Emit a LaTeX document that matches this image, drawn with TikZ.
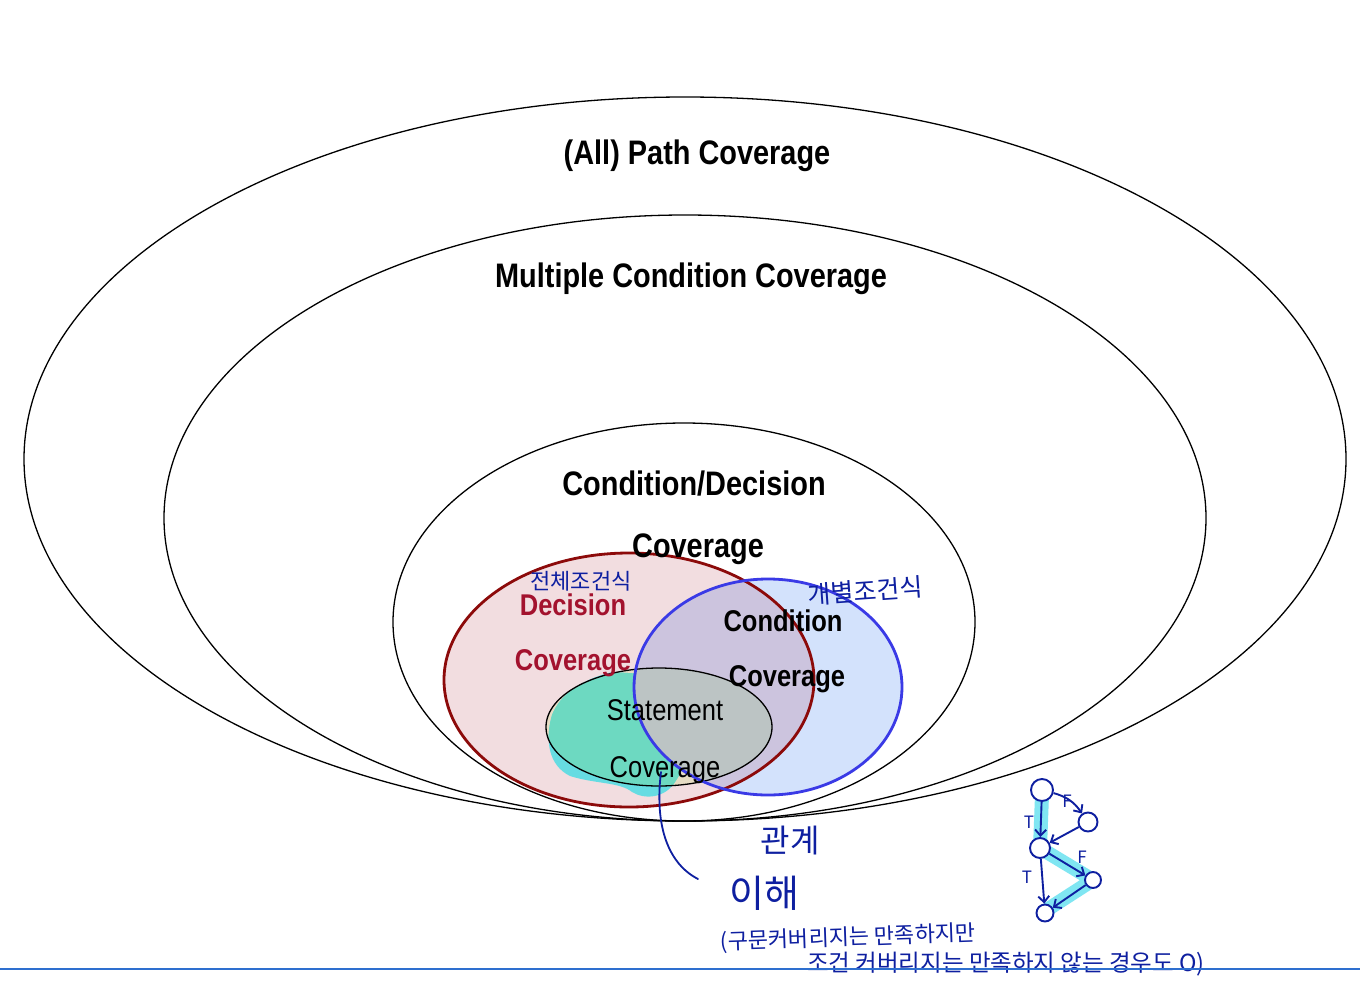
\documentclass[tikz,border=0pt]{standalone}
\usepackage{fontspec}
\setmainfont{Liberation Sans}
\newfontfamily\nar[FakeStretch=0.85]{Liberation Sans}
\newfontfamily\kr{Noto Sans CJK KR}
\usetikzlibrary{arrows.meta}
\definecolor{pinkfill}{HTML}{F2DDE0}
\definecolor{redline}{HTML}{8C0A0A}
\definecolor{redtext}{HTML}{A3122E}
\definecolor{bluefill}{HTML}{D3E2FC}
\definecolor{blueline}{HTML}{3A3AE6}
\definecolor{overlapfill}{HTML}{CCC4DE}
\definecolor{stmtbeige}{HTML}{E6DCC4}
\definecolor{stmtgrey}{HTML}{BCC4C4}
\definecolor{tealhl}{HTML}{6DD9C1}
\definecolor{cyanhl}{HTML}{66DCE2}
\definecolor{ink}{HTML}{0E1FA0}
\definecolor{graphhl}{HTML}{80E6F2}
\definecolor{rule}{HTML}{2E6FCF}
\tikzset{
  bigtxt/.style={inner sep=0pt, anchor=base, font=\nar\bfseries\fontsize{34}{38}\selectfont},
  midtxt/.style={inner sep=0pt, anchor=base, font=\nar\bfseries\fontsize{30}{34}\selectfont},
  stmttxt/.style={inner sep=0pt, anchor=base, font=\nar\fontsize{30}{34}\selectfont},
  hand/.style={inner sep=0pt, text=ink, font=\kr\fontsize{#1}{#1}\selectfont},
  gnode/.style={circle, draw=ink, fill=white, line width=1.9pt, minimum size=#1, inner sep=0pt},
  garrow/.style={draw=ink, line width=1.9pt, -{Straight Barb[length=6pt,width=11pt]}},
  glabel/.style={inner sep=0pt, text=ink, font=\kr\fontsize{17}{17}\selectfont},
  outer/.style={draw=black, line width=1.3pt},
}
\begin{document}
\begin{tikzpicture}[x=1pt,y=-1pt]
\useasboundingbox (0,0) rectangle (1360,999);
\fill[white] (0,0) rectangle (1360,999);
% outer ellipses
\draw[outer] (685,459) ellipse [x radius=661pt, y radius=362pt];
\draw[outer] (685,518) ellipse [x radius=521pt, y radius=303pt];
\draw[outer] (684,622) ellipse [x radius=291pt, y radius=199pt];
% decision / condition fills
\fill[pinkfill] (629,680) ellipse [x radius=185pt, y radius=127pt];
% statement base fill
\fill[stmtbeige] (659,727) ellipse [x radius=113pt, y radius=59pt];
% highlighter blob
\fill[cyanhl] (612,672) .. controls (580,680) and (560,695) .. (552,715)
  .. controls (545,740) and (548,765) .. (570,776)
  .. controls (595,784) and (620,782) .. (632,792)
  .. controls (645,800) and (665,798) .. (675,782)
  .. controls (690,760) and (700,720) .. (660,675) -- cycle;
\begin{scope}
  \clip (659,727) ellipse [x radius=113pt, y radius=59pt];
  \fill[tealhl] (612,672) .. controls (580,680) and (560,695) .. (552,715)
    .. controls (545,740) and (548,765) .. (570,776)
    .. controls (595,784) and (620,782) .. (632,792)
    .. controls (645,800) and (665,798) .. (675,782)
    .. controls (690,760) and (700,720) .. (660,675) -- cycle;
\end{scope}
\fill[bluefill] (768,687) ellipse [x radius=134pt, y radius=108pt];
\begin{scope}
  \clip (629,680) ellipse [x radius=185pt, y radius=127pt];
  \fill[overlapfill] (768,687) ellipse [x radius=134pt, y radius=108pt];
\end{scope}
\begin{scope}
  \clip (768,687) ellipse [x radius=134pt, y radius=108pt];
  \fill[stmtgrey] (659,727) ellipse [x radius=113pt, y radius=59pt];
\end{scope}
% strokes
\draw[black, line width=1.3pt] (659,727) ellipse [x radius=113pt, y radius=59pt];
\draw[redline, line width=2.8pt] (629,680) ellipse [x radius=185pt, y radius=127pt];
\draw[blueline, line width=2.8pt] (768,687) ellipse [x radius=134pt, y radius=108pt];
% labels
\node[bigtxt] (pathc) at (697,164) {(All) Path Coverage};
\node[bigtxt] (multc) at (691,287) {Multiple Condition Coverage};
\node[bigtxt] (cdc1) at (694,495) {Condition/Decision};
\node[bigtxt] (cdc2) at (698,557) {Coverage};
\node[midtxt, text=redtext] (dec1) at (573,615) {Decision};
\node[midtxt, text=redtext] (dec2) at (573,670) {Coverage};
\node[midtxt] (cond1) at (783,631) {Condition};
\node[midtxt] (cond2) at (787,686) {Coverage};
\node[stmttxt] (st1) at (665,720) {Statement};
\node[stmttxt] (st2) at (665,777) {Coverage};
% handwriting
\node[hand=22] (hw1) at (581,581) {전체조건식};
\node[hand=25, rotate=4] (hw2) at (865,591) {개별조건식};
\coordinate (lnstart) at (661,772);
\coordinate (lnend) at (698,879);
\draw[ink, line width=1.8pt, line cap=round] (lnstart) .. controls (655,820) and (665,862) .. (lnend);
\node[hand=32] (hw3) at (790,841) {관계};
\node[hand=38] (hw4) at (764,893) {이해};
\node[hand=22, rotate=2] (hw5) at (848,938) {(구문커버리지는 만족하지만};
\node[hand=23.5] (hw6) at (1006,964) {조건 커버리지는 만족하지 않는 경우도 O)};
% bottom rule
\coordinate (rl) at (0,969);
\coordinate (rr) at (1360,969);
\draw[rule, line width=2pt] (rl) -- (rr);
% small graph
\coordinate (h1) at (1042,795);
\coordinate (h3) at (1040,848);
\coordinate (h4) at (1093,880);
\coordinate (h5) at (1045,911);
\draw[graphhl, line width=14pt, line cap=round, line join=round] (h1) -- (h3) -- (h4) -- (h5);
\node[gnode=22pt] (g1) at (1042,790) {};
\node[gnode=19pt] (g2) at (1088,822) {};
\node[gnode=20pt] (g3) at (1040,848) {};
\node[gnode=16pt] (g4) at (1093,880) {};
\node[gnode=17pt] (g5) at (1045,913) {};
\draw[garrow] (g1) -- (g3);
\draw[garrow] (g1) to[bend left=20] (g2);
\draw[garrow] (g2) -- (g3);
\draw[garrow] (g3) -- (g4);
\draw[garrow] (g3) -- (g5);
\draw[garrow] (g4) -- (g5);
\node[glabel] (t1) at (1029,822) {T};
\node[glabel] (f1) at (1067,801) {F};
\node[glabel] (f2) at (1082,857) {F};
\node[glabel] (t2) at (1027,877) {T};
\end{tikzpicture}
\end{document}
